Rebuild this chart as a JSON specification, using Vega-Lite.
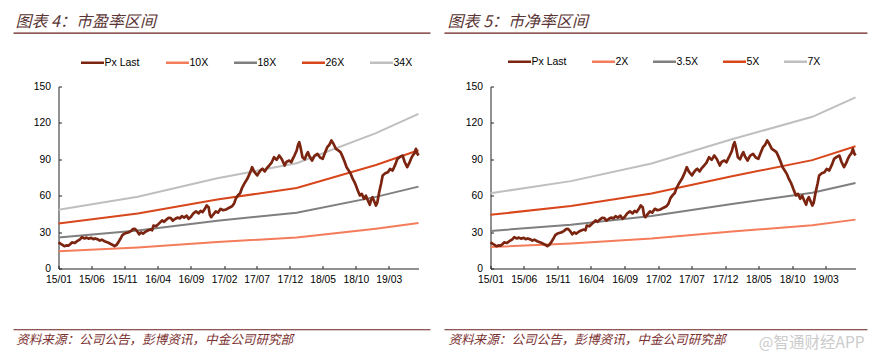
{
  "$schema": "https://vega.github.io/schema/vega-lite/v6.json",
  "background": "white",
  "padding": {"left": 12.5, "top": 13.5, "right": 0, "bottom": 0},
  "bounds": "flush",
  "spacing": 72,
  "resolve": {"scale": {"color": "independent"}},
  "config": {
    "view": {"stroke": null},
    "font": "Liberation Sans",
    "axis": {"labelFont": "Liberation Sans", "labelFontSize": 10.3, "labelColor": "#000", "domainColor": "#222", "tickColor": "#222", "grid": false, "tickSize": -3, "labelOverlap": false, "labelFlush": false, "labelBound": false}
  },
  "datasets": {
    "price": [
      {"date":"2015-01-01","value":21.5},{"date":"2015-01-10","value":20.5},{"date":"2015-01-19","value":19.5},{"date":"2015-01-28","value":18.4},{"date":"2015-02-06","value":19.0},{"date":"2015-02-15","value":18.8},{"date":"2015-02-24","value":20.0},{"date":"2015-03-04","value":21.5},{"date":"2015-03-16","value":21.0},{"date":"2015-03-28","value":22.5},{"date":"2015-04-10","value":24.0},{"date":"2015-04-19","value":25.8},{"date":"2015-05-01","value":24.8},{"date":"2015-05-10","value":25.5},{"date":"2015-05-19","value":24.6},{"date":"2015-06-01","value":25.2},{"date":"2015-06-10","value":24.2},{"date":"2015-06-19","value":24.8},{"date":"2015-07-01","value":24.0},{"date":"2015-07-10","value":23.0},{"date":"2015-07-19","value":23.8},{"date":"2015-08-01","value":22.5},{"date":"2015-08-10","value":21.8},{"date":"2015-08-19","value":21.2},{"date":"2015-09-01","value":20.0},{"date":"2015-09-10","value":19.2},{"date":"2015-09-16","value":18.4},{"date":"2015-09-25","value":19.5},{"date":"2015-10-04","value":21.7},{"date":"2015-10-13","value":24.5},{"date":"2015-10-22","value":27.5},{"date":"2015-11-01","value":28.8},{"date":"2015-11-13","value":29.5},{"date":"2015-11-22","value":30.0},{"date":"2015-12-01","value":31.0},{"date":"2015-12-10","value":32.5},{"date":"2015-12-19","value":32.7},{"date":"2015-12-28","value":31.0},
      {"date":"2016-01-07","value":28.2},{"date":"2016-01-16","value":29.8},{"date":"2016-01-25","value":28.8},{"date":"2016-02-07","value":30.5},{"date":"2016-02-19","value":31.5},{"date":"2016-02-28","value":32.1},{"date":"2016-03-07","value":31.5},{"date":"2016-03-13","value":35.4},{"date":"2016-03-25","value":34.8},{"date":"2016-04-07","value":37.0},{"date":"2016-04-22","value":39.6},{"date":"2016-05-01","value":38.5},{"date":"2016-05-13","value":40.5},{"date":"2016-05-22","value":41.8},{"date":"2016-06-01","value":41.5},{"date":"2016-06-10","value":39.5},{"date":"2016-06-22","value":41.0},{"date":"2016-07-01","value":42.0},{"date":"2016-07-13","value":41.3},{"date":"2016-07-22","value":43.1},{"date":"2016-08-01","value":42.0},{"date":"2016-08-13","value":43.5},{"date":"2016-08-22","value":41.0},{"date":"2016-09-01","value":42.5},{"date":"2016-09-13","value":45.5},{"date":"2016-09-25","value":47.0},{"date":"2016-10-07","value":45.5},{"date":"2016-10-16","value":47.5},{"date":"2016-10-25","value":46.4},{"date":"2016-11-04","value":49.0},{"date":"2016-11-13","value":51.9},{"date":"2016-11-22","value":50.5},{"date":"2016-11-28","value":44.0},{"date":"2016-12-04","value":42.3},{"date":"2016-12-13","value":44.5},{"date":"2016-12-25","value":47.0},
      {"date":"2017-01-04","value":46.0},{"date":"2017-01-16","value":49.2},{"date":"2017-01-28","value":48.0},{"date":"2017-02-10","value":48.6},{"date":"2017-02-19","value":49.5},{"date":"2017-03-01","value":50.5},{"date":"2017-03-10","value":51.3},{"date":"2017-03-19","value":53.5},{"date":"2017-03-28","value":58.0},{"date":"2017-04-07","value":60.5},{"date":"2017-04-16","value":62.0},{"date":"2017-04-25","value":66.5},{"date":"2017-05-07","value":70.5},{"date":"2017-05-19","value":73.9},{"date":"2017-06-01","value":79.0},{"date":"2017-06-10","value":83.5},{"date":"2017-06-19","value":80.0},{"date":"2017-06-28","value":78.0},{"date":"2017-07-04","value":76.7},{"date":"2017-07-13","value":79.5},{"date":"2017-07-22","value":81.5},{"date":"2017-07-28","value":82.2},{"date":"2017-08-07","value":80.0},{"date":"2017-08-16","value":82.5},{"date":"2017-08-28","value":84.9},{"date":"2017-09-07","value":87.0},{"date":"2017-09-19","value":91.7},{"date":"2017-10-01","value":89.5},{"date":"2017-10-13","value":93.1},{"date":"2017-10-25","value":90.0},{"date":"2017-11-07","value":84.9},{"date":"2017-11-16","value":88.0},{"date":"2017-11-28","value":89.0},{"date":"2017-12-07","value":87.5},{"date":"2017-12-16","value":91.0},{"date":"2017-12-22","value":93.1},
      {"date":"2018-01-01","value":97.0},{"date":"2018-01-07","value":101.5},{"date":"2018-01-13","value":104.1},{"date":"2018-01-19","value":100.0},{"date":"2018-01-28","value":91.7},{"date":"2018-02-07","value":90.0},{"date":"2018-02-16","value":94.0},{"date":"2018-02-22","value":95.9},{"date":"2018-03-01","value":92.5},{"date":"2018-03-13","value":89.0},{"date":"2018-03-25","value":93.0},{"date":"2018-04-07","value":94.5},{"date":"2018-04-19","value":91.5},{"date":"2018-05-01","value":90.4},{"date":"2018-05-13","value":96.0},{"date":"2018-05-22","value":100.0},{"date":"2018-06-01","value":102.0},{"date":"2018-06-10","value":105.5},{"date":"2018-06-19","value":103.0},{"date":"2018-07-01","value":98.6},{"date":"2018-07-10","value":97.5},{"date":"2018-07-22","value":95.9},{"date":"2018-08-01","value":92.0},{"date":"2018-08-10","value":88.0},{"date":"2018-08-19","value":83.5},{"date":"2018-08-28","value":81.0},{"date":"2018-09-07","value":78.0},{"date":"2018-09-16","value":74.0},{"date":"2018-09-25","value":71.0},{"date":"2018-10-01","value":68.4},{"date":"2018-10-10","value":64.0},{"date":"2018-10-19","value":60.2},{"date":"2018-10-28","value":61.5},{"date":"2018-11-07","value":57.5},{"date":"2018-11-16","value":60.0},{"date":"2018-11-25","value":56.0},{"date":"2018-12-04","value":52.5},{"date":"2018-12-10","value":57.0},{"date":"2018-12-16","value":58.8},{"date":"2018-12-25","value":55.0},
      {"date":"2019-01-01","value":51.9},{"date":"2019-01-07","value":54.0},{"date":"2019-01-16","value":62.9},{"date":"2019-01-25","value":70.0},{"date":"2019-02-01","value":76.7},{"date":"2019-02-13","value":78.5},{"date":"2019-02-25","value":79.4},{"date":"2019-03-07","value":82.0},{"date":"2019-03-19","value":80.8},{"date":"2019-04-01","value":86.0},{"date":"2019-04-10","value":90.4},{"date":"2019-04-22","value":92.0},{"date":"2019-05-04","value":93.1},{"date":"2019-05-13","value":88.0},{"date":"2019-05-25","value":83.5},{"date":"2019-06-04","value":87.0},{"date":"2019-06-13","value":91.0},{"date":"2019-06-19","value":93.1},{"date":"2019-06-28","value":95.0},{"date":"2019-07-04","value":98.6},{"date":"2019-07-10","value":95.0},{"date":"2019-07-16","value":93.1}
    ],
    "pe": [
      {"date":"2015-01-01","series":"10X","value":14.24},{"date":"2016-01-01","series":"10X","value":17.4},{"date":"2017-01-01","series":"10X","value":21.9},{"date":"2018-01-01","series":"10X","value":25.5},{"date":"2019-01-01","series":"10X","value":32.8},{"date":"2019-07-16","series":"10X","value":37.5},
      {"date":"2015-01-01","series":"18X","value":25.63},{"date":"2016-01-01","series":"18X","value":31.32},{"date":"2017-01-01","series":"18X","value":39.42},{"date":"2018-01-01","series":"18X","value":45.9},{"date":"2019-01-01","series":"18X","value":59.04},{"date":"2019-07-16","series":"18X","value":67.5},
      {"date":"2015-01-01","series":"26X","value":37.02},{"date":"2016-01-01","series":"26X","value":45.24},{"date":"2017-01-01","series":"26X","value":56.94},{"date":"2018-01-01","series":"26X","value":66.3},{"date":"2019-01-01","series":"26X","value":85.28},{"date":"2019-07-16","series":"26X","value":97.5},
      {"date":"2015-01-01","series":"34X","value":48.42},{"date":"2016-01-01","series":"34X","value":59.16},{"date":"2017-01-01","series":"34X","value":74.46},{"date":"2018-01-01","series":"34X","value":86.7},{"date":"2019-01-01","series":"34X","value":111.52},{"date":"2019-07-16","series":"34X","value":127.5}
    ],
    "pb": [
      {"date":"2015-01-01","series":"2X","value":17.71},{"date":"2016-01-01","series":"2X","value":20.58},{"date":"2017-01-01","series":"2X","value":24.72},{"date":"2018-01-01","series":"2X","value":30.42},{"date":"2019-01-01","series":"2X","value":35.72},{"date":"2019-07-16","series":"2X","value":40.28},
      {"date":"2015-01-01","series":"3.5X","value":31.0},{"date":"2016-01-01","series":"3.5X","value":36.0},{"date":"2017-01-01","series":"3.5X","value":43.26},{"date":"2018-01-01","series":"3.5X","value":53.24},{"date":"2019-01-01","series":"3.5X","value":62.5},{"date":"2019-07-16","series":"3.5X","value":70.5},
      {"date":"2015-01-01","series":"5X","value":44.29},{"date":"2016-01-01","series":"5X","value":51.45},{"date":"2017-01-01","series":"5X","value":61.8},{"date":"2018-01-01","series":"5X","value":76.05},{"date":"2019-01-01","series":"5X","value":89.3},{"date":"2019-07-16","series":"5X","value":100.7},
      {"date":"2015-01-01","series":"7X","value":62.0},{"date":"2016-01-01","series":"7X","value":72.0},{"date":"2017-01-01","series":"7X","value":86.5},{"date":"2018-01-01","series":"7X","value":106.5},{"date":"2019-01-01","series":"7X","value":125.0},{"date":"2019-07-16","series":"7X","value":141.0}
    ]
  },
  "hconcat": [
    {
      "width": 360,
      "height": 182,
      "encoding": {
        "x": {"type": "temporal", "scale": {"domain": [{"year": 2015, "month": 1, "date": 1}, {"year": 2019, "month": 7, "date": 16}]},
          "axis": {"title": null, "format": "%y/%m", "labelPadding": 9, "labelOverlap": false, "labelFlush": false, "labelBound": false, "values": [{"year": 2015, "month": 1, "date": 1}, {"year": 2015, "month": 6, "date": 1}, {"year": 2015, "month": 11, "date": 1}, {"year": 2016, "month": 4, "date": 1}, {"year": 2016, "month": 9, "date": 1}, {"year": 2017, "month": 2, "date": 1}, {"year": 2017, "month": 7, "date": 1}, {"year": 2017, "month": 12, "date": 1}, {"year": 2018, "month": 5, "date": 1}, {"year": 2018, "month": 10, "date": 1}, {"year": 2019, "month": 3, "date": 1}]}},
        "y": {"type": "quantitative", "scale": {"domain": [0, 150], "nice": false}, "axis": {"title": null, "values": [0, 30, 60, 90, 120, 150], "labelPadding": 11, "labelOverlap": false, "labelFlush": false, "labelBound": false}}
      },
      "layer": [
        {
          "data": {"values": [{}]},
          "mark": {"type": "rule", "color": "#6B1F1F", "strokeWidth": 1.2},
          "encoding": {
            "x": {"datum": {"year": 2014, "month": 6, "date": 8}},
            "x2": {"datum": {"year": 2019, "month": 9, "date": 9}},
            "y": {"datum": 194}
          }
        },
        {
          "data": {"values": [{}]},
          "mark": {"type": "rule", "color": "#6B1F1F", "strokeWidth": 1.2},
          "encoding": {
            "x": {"datum": {"year": 2014, "month": 6, "date": 8}},
            "x2": {"datum": {"year": 2019, "month": 9, "date": 9}},
            "y": {"datum": -50.5}
          }
        },
        {
          "data": {"values": [{}]},
          "mark": {"type": "text", "align": "left", "baseline": "alphabetic", "font": "Noto Sans CJK SC", "fontSize": 16, "fontStyle": "italic", "color": "#5A3535"},
          "encoding": {
            "x": {"datum": {"year": 2014, "month": 6, "date": 17}},
            "y": {"datum": 198.8},
            "text": {"value": "图表 4：市盈率区间"}
          }
        },
        {
          "data": {"values": [{}]},
          "mark": {"type": "text", "align": "left", "baseline": "alphabetic", "font": "Noto Sans CJK SC", "fontSize": 12.6, "fontStyle": "italic", "color": "#7B3030"},
          "encoding": {
            "x": {"datum": {"year": 2014, "month": 6, "date": 20}},
            "y": {"datum": -62},
            "text": {"value": "资料来源：公司公告，彭博资讯，中金公司研究部"}
          }
        },
        {
          "data": {"name": "pe"},
          "mark": {"type": "line", "strokeWidth": 2},
          "encoding": {
            "x": {"field": "date"},
            "y": {"field": "value"},
            "color": {"field": "series", "type": "nominal",
              "scale": {"domain": ["Px Last", "10X", "18X", "26X", "34X"], "range": ["#7B2410", "#F47C5A", "#7F7F7F", "#D8461B", "#BFBFBF"]},
              "legend": {"title": null, "orient": "none", "legendX": 21, "legendY": -37, "direction": "horizontal", "symbolType": "stroke", "symbolSize": 529, "symbolStrokeWidth": 2.5, "labelFont": "Liberation Sans", "labelFontSize": 10.5, "labelColor": "#000", "labelOffset": -1, "columnPadding": 20, "padding": 0}}
          }
        },
        {
          "data": {"name": "price"},
          "mark": {"type": "line", "strokeWidth": 2.7, "strokeJoin": "round"},
          "encoding": {
            "x": {"field": "date"},
            "y": {"field": "value"},
            "color": {"datum": "Px Last"}
          }
        }
      ]
    },
    {
      "width": 365,
      "height": 182,
      "encoding": {
        "x": {"type": "temporal", "scale": {"domain": [{"year": 2015, "month": 1, "date": 1}, {"year": 2019, "month": 7, "date": 16}]},
          "axis": {"title": null, "format": "%y/%m", "labelPadding": 9, "labelOverlap": false, "labelFlush": false, "labelBound": false, "values": [{"year": 2015, "month": 1, "date": 1}, {"year": 2015, "month": 6, "date": 1}, {"year": 2015, "month": 11, "date": 1}, {"year": 2016, "month": 4, "date": 1}, {"year": 2016, "month": 9, "date": 1}, {"year": 2017, "month": 2, "date": 1}, {"year": 2017, "month": 7, "date": 1}, {"year": 2017, "month": 12, "date": 1}, {"year": 2018, "month": 5, "date": 1}, {"year": 2018, "month": 10, "date": 1}, {"year": 2019, "month": 3, "date": 1}]}},
        "y": {"type": "quantitative", "scale": {"domain": [0, 150], "nice": false}, "axis": {"title": null, "values": [0, 30, 60, 90, 120, 150], "labelPadding": 11, "labelOverlap": false, "labelFlush": false, "labelBound": false}}
      },
      "layer": [
        {
          "data": {"values": [{}]},
          "mark": {"type": "rule", "color": "#6B1F1F", "strokeWidth": 1.2},
          "encoding": {
            "x": {"datum": {"year": 2014, "month": 6, "date": 6}},
            "x2": {"datum": {"year": 2019, "month": 9, "date": 8}},
            "y": {"datum": 194}
          }
        },
        {
          "data": {"values": [{}]},
          "mark": {"type": "rule", "color": "#6B1F1F", "strokeWidth": 1.2},
          "encoding": {
            "x": {"datum": {"year": 2014, "month": 6, "date": 6}},
            "x2": {"datum": {"year": 2019, "month": 9, "date": 8}},
            "y": {"datum": -50.5}
          }
        },
        {
          "data": {"values": [{}]},
          "mark": {"type": "text", "align": "left", "baseline": "alphabetic", "font": "Noto Sans CJK SC", "fontSize": 16, "fontStyle": "italic", "color": "#5A3535"},
          "encoding": {
            "x": {"datum": {"year": 2014, "month": 6, "date": 20}},
            "y": {"datum": 198.8},
            "text": {"value": "图表 5：市净率区间"}
          }
        },
        {
          "data": {"values": [{}]},
          "mark": {"type": "text", "align": "left", "baseline": "alphabetic", "font": "Noto Sans CJK SC", "fontSize": 12.6, "fontStyle": "italic", "color": "#7B3030"},
          "encoding": {
            "x": {"datum": {"year": 2014, "month": 6, "date": 24}},
            "y": {"datum": -62},
            "text": {"value": "资料来源：公司公告，彭博资讯，中金公司研究部"}
          }
        },
        {
          "data": {"values": [{}]},
          "mark": {"type": "text", "align": "right", "baseline": "alphabetic", "font": "Noto Sans CJK SC", "fontSize": 15.5, "color": "#CCCCCC"},
          "encoding": {
            "x": {"datum": {"year": 2019, "month": 8, "date": 26}},
            "y": {"datum": -65.3},
            "text": {"value": "@智通财经APP"}
          }
        },
        {
          "data": {"name": "pb"},
          "mark": {"type": "line", "strokeWidth": 2},
          "encoding": {
            "x": {"field": "date"},
            "y": {"field": "value"},
            "color": {"field": "series", "type": "nominal",
              "scale": {"domain": ["Px Last", "2X", "3.5X", "5X", "7X"], "range": ["#7B2410", "#F47C5A", "#7F7F7F", "#D8461B", "#BFBFBF"]},
              "legend": {"title": null, "orient": "none", "legendX": 16, "legendY": -38, "direction": "horizontal", "symbolType": "stroke", "symbolSize": 529, "symbolStrokeWidth": 2.5, "labelFont": "Liberation Sans", "labelFontSize": 10.5, "labelColor": "#000", "labelOffset": -1, "columnPadding": 19, "padding": 0}}
          }
        },
        {
          "data": {"name": "price"},
          "mark": {"type": "line", "strokeWidth": 2.7, "strokeJoin": "round"},
          "encoding": {
            "x": {"field": "date"},
            "y": {"field": "value"},
            "color": {"datum": "Px Last"}
          }
        }
      ]
    }
  ]
}
